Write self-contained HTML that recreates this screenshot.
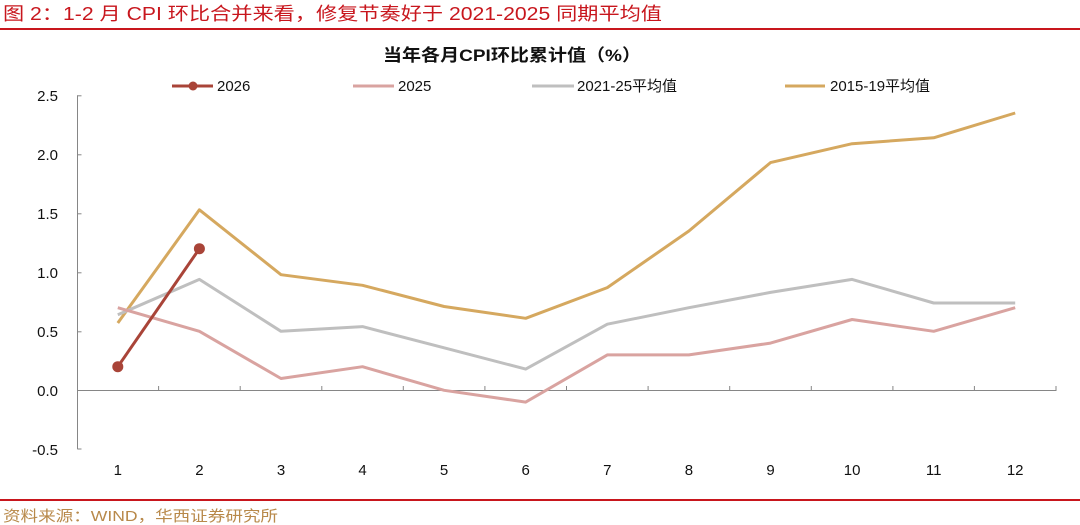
<!DOCTYPE html>
<html><head><meta charset="utf-8">
<style>
html,body{margin:0;padding:0;background:#fff;}
svg{display:block;}
</style></head>
<body>
<svg width="1080" height="525" viewBox="0 0 1080 525" xmlns="http://www.w3.org/2000/svg">
<rect width="1080" height="525" fill="#fff"/>
<!-- header -->
<text x="3" y="20" font-family="'Liberation Sans','Noto Sans CJK SC',sans-serif" font-size="18" fill="#C8161D" textLength="659" lengthAdjust="spacingAndGlyphs">图 2：1-2 月 CPI 环比合并来看，修复节奏好于 2021-2025 同期平均值</text>
<rect x="0" y="28" width="1080" height="2" fill="#C8161D"/>
<!-- chart title -->
<text x="383" y="61" font-family="'Liberation Sans','Noto Sans CJK SC',sans-serif" font-size="17" font-weight="bold" fill="#111" textLength="258" lengthAdjust="spacingAndGlyphs">当年各月CPI环比累计值（%）</text>
<!-- legend -->
<g font-family="'Liberation Sans','Noto Sans CJK SC',sans-serif" font-size="15" fill="#111">
<line x1="172" y1="86" x2="213" y2="86" stroke="#A94438" stroke-width="3"/>
<circle cx="193" cy="86" r="4.5" fill="#A94438"/>
<text x="217" y="91">2026</text>
<line x1="353" y1="86" x2="394" y2="86" stroke="#D9A3A0" stroke-width="3"/>
<text x="398" y="91">2025</text>
<line x1="532" y1="86" x2="574" y2="86" stroke="#BFBFBF" stroke-width="3"/>
<text x="577" y="91">2021-25平均值</text>
<line x1="785" y1="86" x2="825" y2="86" stroke="#D5A85F" stroke-width="3"/>
<text x="830" y="91">2015-19平均值</text>
</g>
<!-- y axis -->
<g stroke="#868686" stroke-width="1" fill="none">
<line x1="77.5" y1="95.3" x2="77.5" y2="449.3"/>
<line x1="77.5" y1="95.8" x2="81.5" y2="95.8"/>
<line x1="77.5" y1="154.8" x2="81.5" y2="154.8"/>
<line x1="77.5" y1="213.8" x2="81.5" y2="213.8"/>
<line x1="77.5" y1="272.8" x2="81.5" y2="272.8"/>
<line x1="77.5" y1="331.8" x2="81.5" y2="331.8"/>
<line x1="77.5" y1="449" x2="81.5" y2="449"/>
<!-- x axis -->
<line x1="77" y1="390.5" x2="1056.5" y2="390.5"/>
<line x1="158.6" y1="386" x2="158.6" y2="390.5"/>
<line x1="240.2" y1="386" x2="240.2" y2="390.5"/>
<line x1="321.8" y1="386" x2="321.8" y2="390.5"/>
<line x1="403.3" y1="386" x2="403.3" y2="390.5"/>
<line x1="484.9" y1="386" x2="484.9" y2="390.5"/>
<line x1="566.5" y1="386" x2="566.5" y2="390.5"/>
<line x1="648.1" y1="386" x2="648.1" y2="390.5"/>
<line x1="729.7" y1="386" x2="729.7" y2="390.5"/>
<line x1="811.3" y1="386" x2="811.3" y2="390.5"/>
<line x1="892.9" y1="386" x2="892.9" y2="390.5"/>
<line x1="974.4" y1="386" x2="974.4" y2="390.5"/>
<line x1="1056" y1="386" x2="1056" y2="390.5"/>
</g>
<!-- y labels -->
<g font-family="'Liberation Sans',sans-serif" font-size="15" fill="#111" text-anchor="end">
<text x="58" y="101">2.5</text>
<text x="58" y="160">2.0</text>
<text x="58" y="219">1.5</text>
<text x="58" y="278">1.0</text>
<text x="58" y="337">0.5</text>
<text x="58" y="396">0.0</text>
<text x="58" y="455">-0.5</text>
</g>
<!-- x labels -->
<g font-family="'Liberation Sans',sans-serif" font-size="15" fill="#111" text-anchor="middle">
<text x="117.8" y="475">1</text>
<text x="199.4" y="475">2</text>
<text x="281" y="475">3</text>
<text x="362.5" y="475">4</text>
<text x="444.1" y="475">5</text>
<text x="525.7" y="475">6</text>
<text x="607.3" y="475">7</text>
<text x="688.9" y="475">8</text>
<text x="770.5" y="475">9</text>
<text x="852.1" y="475">10</text>
<text x="933.7" y="475">11</text>
<text x="1015.2" y="475">12</text>
</g>
<!-- series -->
<g fill="none" stroke-width="3" stroke-linejoin="round">
<polyline stroke="#D5A85F" points="117.8,323.0 199.4,209.8 281,274.7 362.5,285.3 444.1,306.5 525.7,318.3 607.3,287.6 688.9,231.0 770.5,162.6 852.1,143.7 933.7,137.8 1015.2,113.0"/>
<polyline stroke="#BFBFBF" points="117.8,314.8 199.4,279.4 281,331.3 362.5,326.6 444.1,347.8 525.7,369.1 607.3,324.2 688.9,307.7 770.5,292.4 852.1,279.4 933.7,303.0 1015.2,303.0"/>
<polyline stroke="#D9A3A0" points="117.8,307.7 199.4,331.3 281,378.5 362.5,366.7 444.1,390.3 525.7,402.1 607.3,354.9 688.9,354.9 770.5,343.1 852.1,319.5 933.7,331.3 1015.2,307.7"/>
<polyline stroke="#A94438" points="117.8,366.7 199.4,248.7"/>
</g>
<circle cx="117.8" cy="366.7" r="5.5" fill="#A94438"/>
<circle cx="199.4" cy="248.7" r="5.5" fill="#A94438"/>
<!-- footer -->
<rect x="0" y="499" width="1080" height="2" fill="#C8161D"/>
<text x="3" y="521" font-family="'Liberation Sans','Noto Sans CJK SC',sans-serif" font-size="15" fill="#B8894A" textLength="275" lengthAdjust="spacingAndGlyphs">资料来源：WIND，华西证券研究所</text>
</svg>
</body></html>
